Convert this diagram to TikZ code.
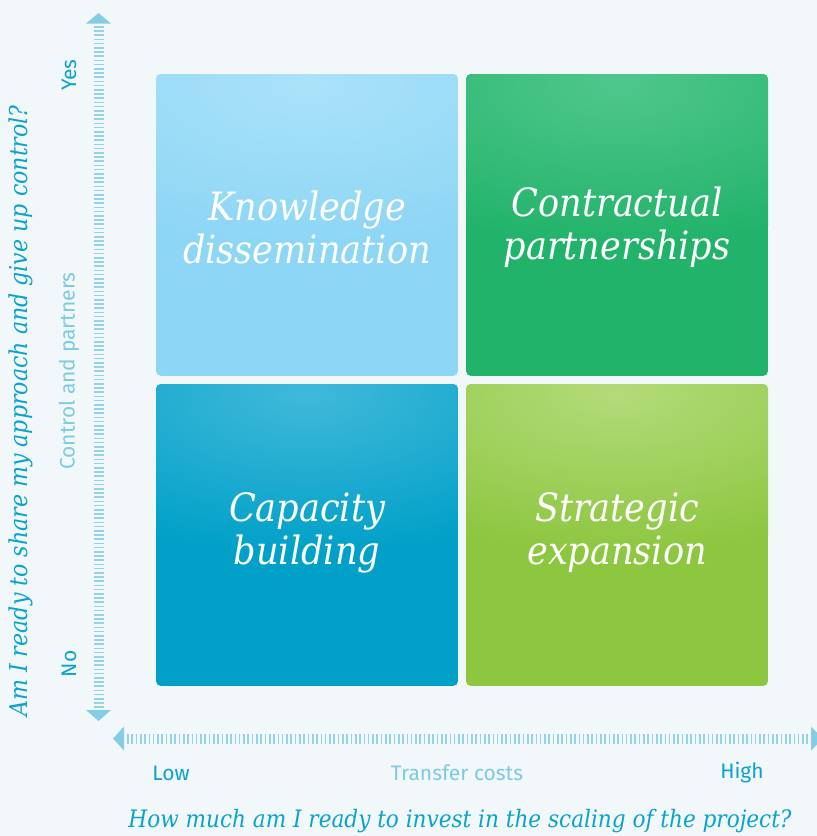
\documentclass[tikz,border=0pt]{standalone}
\usepackage{fontspec}
\setmainfont{DejaVu Serif Condensed}
\newfontfamily\axisfont{Fira Sans}
\usetikzlibrary{calc}
\definecolor{bg}{HTML}{F2F7FA}
\definecolor{axisc}{HTML}{86CCE4}
\definecolor{tickc}{HTML}{94D2E8}
\definecolor{darktxt}{HTML}{0AA3CC}
\definecolor{lighttxt}{HTML}{7CCBE2}
\definecolor{cKbase}{HTML}{8DD6F5}
\definecolor{cKhi}{HTML}{AAE2F9}
\definecolor{cCbase}{HTML}{22B36A}
\definecolor{cChi}{HTML}{4FC78C}
\definecolor{cBbase}{HTML}{00A0C8}
\definecolor{cBhi}{HTML}{40B9D9}
\definecolor{cSbase}{HTML}{8DC63F}
\definecolor{cShi}{HTML}{B2DB7A}
\tikzset{
  boxtext/.style={text=white, font=\itshape\fontsize{39}{43}\selectfont, align=center},
  axislabel/.style={font=\axisfont\fontsize{21}{24}\selectfont, text=darktxt},
  axisname/.style={font=\axisfont\fontsize{21}{24}\selectfont, text=lighttxt},
  question/.style={font=\itshape\fontsize{24}{28}\selectfont, text=darktxt},
  vticks/.style={draw=tickc, line width=10pt, dash pattern=on 1.6pt off 2.6pt},
  hticks/.style={draw=tickc, line width=10pt, dash pattern=on 1.6pt off 2.7pt},
}
\begin{document}
\begin{tikzpicture}[x=1pt,y=-1pt]
\fill[bg] (0,0) rectangle (817,836);
\useasboundingbox (0,0) rectangle (817,836);
% boxes with highlights
\foreach \xa/\ya/\xb/\yb/\cb/\ch in {156/74/458/376/cKbase/cKhi, 466/74/768/376/cCbase/cChi, 156/384/458/686/cBbase/cBhi, 466/384/768/686/cSbase/cShi}{
  \begin{scope}
    \clip[rounded corners=5pt] (\xa,\ya) rectangle (\xb,\yb);
    \fill[\cb] (\xa,\ya) rectangle (\xb,\yb);
    \shade[inner color=\ch, outer color=\cb] ($(\xa,\ya)!0.5!(\xb,\ya)+(0,10)$) ellipse (330 and 160);
  \end{scope}
}
\node[boxtext] (kd) at (307,227) {Knowledge\\dissemination};
\node[boxtext] (cp) at (617,227) {Contractual\\partnerships};
\node[boxtext] (cb) at (307,533) {Capacity\\building};
\node[boxtext] (se) at (617,533) {Strategic\\expansion};
% vertical axis
\coordinate (vtop) at (98.5,13);
\coordinate (vbot) at (98.5,721);
\draw[vticks] (98.5,26) -- (98.5,708);
\fill[axisc] (vtop) -- (111,23.5) -- (86,23.5) -- cycle;
\fill[axisc] (vbot) -- (111,710) -- (86,710) -- cycle;
% horizontal axis
\coordinate (hleft) at (113,738.5);
\coordinate (hright) at (823,738.5);
\draw[hticks] (127,738.5) -- (809,738.5);
\fill[axisc] (hleft) -- (124,726.5) -- (124,750.5) -- cycle;
\fill[axisc] (hright) -- (811,726.5) -- (811,750.5) -- cycle;
% axis labels
\node[axislabel, rotate=90] (yes) at (69,75) {Yes};
\node[axislabel, rotate=90] (no) at (69,664) {No};
\node[axisname, rotate=90] (ctrl) at (69,371) {Control and partners};
\node[question, rotate=90, font=\itshape\fontsize{24.6}{28}\selectfont] (q1) at (21,411) {Am I ready to share my approach and give up control?};
\node[axislabel] (low) at (171,773) {Low};
\node[axisname] (tc) at (457,773) {Transfer costs};
\node[axislabel] (high) at (742,773) {High};
\node[question] (q2) at (460,821) {How much am I ready to invest in the scaling of the project?};
\end{tikzpicture}
\end{document}
